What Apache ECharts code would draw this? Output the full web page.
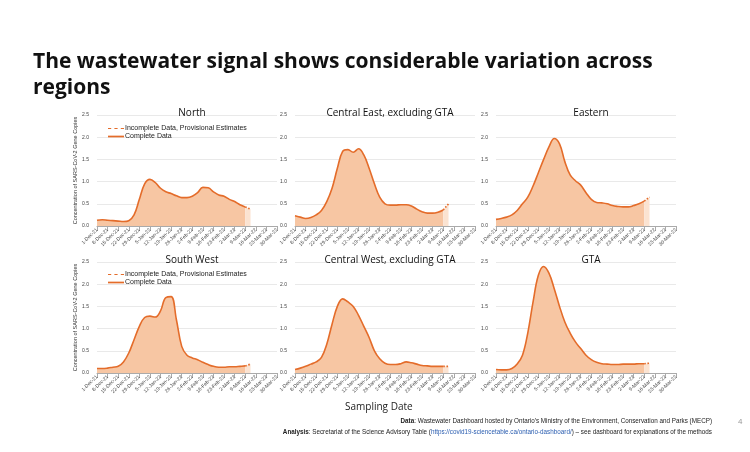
<!DOCTYPE html>
<html><head><meta charset="utf-8">
<script src="https://cdn.jsdelivr.net/npm/echarts@6/dist/echarts.min.js"></script>
<style>html,body{margin:0;padding:0;background:#fff}#c{width:750px;height:452px}</style>
</head><body><div id="c"></div>
<script>
const weekLabels = ['1-Dec-21','8-Dec-21','15-Dec-21','22-Dec-21','29-Dec-21','5-Jan-22','12-Jan-22','19-Jan-22','26-Jan-22','2-Feb-22','9-Feb-22','16-Feb-22','23-Feb-22','2-Mar-22','9-Mar-22','16-Mar-22','23-Mar-22','30-Mar-22'];
// half-week sample points (35 slots); odd slots are mid-week
const categories = [];
weekLabels.forEach((w,i)=>{categories.push(w); if(i<weekLabels.length-1) categories.push('mid-'+w);});
const regions = ['North','Central East, excluding GTA','Eastern','South West','Central West, excluding GTA','GTA'];
const north = [0.13,0.14,0.13,0.12,0.11,0.10,0.12,0.25,0.6,0.95,1.05,0.98,0.85,0.77,0.73,0.68,0.64,0.64,0.67,0.75,0.87,0.86,0.77,0.70,0.67,0.6,0.55,0.48,0.43,0.38];
const centralEast = [0.23,0.2,0.17,0.19,0.25,0.35,0.55,0.85,1.3,1.68,1.72,1.66,1.74,1.6,1.3,0.95,0.65,0.5,0.47,0.47,0.48,0.48,0.45,0.38,0.32,0.29,0.29,0.31,0.36,0.5];
const eastern = [0.15,0.17,0.2,0.25,0.35,0.5,0.65,0.9,1.2,1.5,1.78,1.97,1.85,1.45,1.15,1.02,0.92,0.75,0.6,0.53,0.52,0.5,0.46,0.44,0.43,0.43,0.46,0.5,0.56,0.65];
const southWest = [0.1,0.1,0.11,0.13,0.15,0.25,0.45,0.75,1.05,1.25,1.28,1.26,1.4,1.7,1.72,1.2,0.6,0.4,0.34,0.3,0.24,0.19,0.15,0.13,0.13,0.14,0.14,0.15,0.16,0.2];
const centralWest = [0.08,0.11,0.15,0.2,0.25,0.35,0.65,1.1,1.5,1.67,1.6,1.5,1.3,1.05,0.8,0.5,0.32,0.22,0.19,0.19,0.21,0.25,0.23,0.2,0.17,0.16,0.15,0.15,0.15,0.15];
const gta = [0.08,0.07,0.07,0.1,0.2,0.4,0.9,1.6,2.2,2.4,2.25,1.9,1.5,1.15,0.9,0.7,0.55,0.4,0.3,0.24,0.21,0.2,0.19,0.19,0.2,0.2,0.2,0.21,0.21,0.22];
const allData = [north,centralEast,eastern,southWest,centralWest,gta];
const completeEnd = 28;

const lineC = '#E46C2A', areaC = '#F7C6A3', areaP = '#FBE3D1';
const lefts = [97,295,496];
const tops = [115,262], hgt = 111;
const grid=[],xAxis=[],yAxis=[],series=[],title=[];
for(let i=0;i<6;i++){
  const r=Math.floor(i/3), c=i%3;
  grid.push({left:lefts[c], width:180, top:tops[r], height:hgt});
  xAxis.push({type:'category',gridIndex:i,data:categories,boundaryGap:false,
    axisLine:{lineStyle:{color:'#aaa'}},axisTick:{interval:(k)=>k%2===0,lineStyle:{color:'#aaa'}},
    axisLabel:{interval:(k)=>k%2===0,rotate:45,fontSize:5,color:'#444',margin:3,fontFamily:'Liberation Sans'}});
  yAxis.push({type:'value',gridIndex:i,min:0,max:2.5,interval:0.5,
    axisLabel:{fontSize:5,color:'#444',formatter:v=>v.toFixed(1),margin:8},
    splitLine:{lineStyle:{color:'#e3e3e3',width:0.8}},axisLine:{show:false},
    name:c===0?'Concentration of SARS-CoV-2 Gene Copies':'',nameLocation:'middle',nameGap:16,
    nameTextStyle:{fontSize:5.5,color:'#333'}});
  title.push({text:regions[i],left:lefts[c]+90,textAlign:'center',top:tops[r]-12,
    textStyle:{fontSize:10,fontWeight:'normal',color:'#111',fontFamily:'Open Sans'}});
  const d=allData[i];
  const comp=categories.map((_,k)=>k<=completeEnd?d[k]:null);
  const prov=categories.map((_,k)=>(k>=completeEnd&&k<d.length)?d[k]:null);
  series.push({name:'Complete Data',type:'line',xAxisIndex:i,yAxisIndex:i,data:comp,smooth:0.4,showSymbol:false,
    lineStyle:{color:lineC,width:1.6},itemStyle:{color:lineC},areaStyle:{color:areaC,opacity:1}});
  series.push({name:'Incomplete Data, Provisional Estimates',type:'line',xAxisIndex:i,yAxisIndex:i,data:prov,showSymbol:false,
    lineStyle:{color:lineC,width:1.6,type:'dotted'},itemStyle:{color:lineC},areaStyle:{color:areaP,opacity:1}});
}
title.push({text:'The wastewater signal shows considerable variation across\nregions',left:28,top:44,
  textStyle:{fontSize:21,fontWeight:'bold',color:'#111',lineHeight:26,fontFamily:'Open Sans'}});
const mkLegend=(top)=>({top:top,left:103,orient:'vertical',itemGap:1,itemWidth:16,itemHeight:6,
  data:[{name:'Incomplete Data, Provisional Estimates',icon:'path://M0,2.5H3V3.5H0ZM6,2.5H9V3.5H6ZM12,2.5H15V3.5H12Z'},
        {name:'Complete Data',icon:'path://M0,2.2H15V3.8H0Z'}],
  textStyle:{fontSize:7,color:'#222',padding:[0,0,0,-4]},selectedMode:false});
const chart=echarts.init(document.getElementById('c'),null,{renderer:'canvas'});
chart.setOption({animation:false,title,grid,xAxis,yAxis,series,
  legend:[mkLegend(120),mkLegend(266)],
  graphic:[
    {type:'text',left:345,top:402,style:{text:'Sampling Date',fontSize:10,fill:'#222',fontFamily:'Open Sans'}},
    {type:'text',right:38,top:418,style:{text:'{b|Data}: Wastewater Dashboard hosted by Ontario\u2019s Ministry of the Environment, Conservation and Parks (MECP)',fontSize:6.3,fill:'#222',align:'right',rich:{b:{fontWeight:'bold',fontSize:6.3}}}},
    {type:'text',right:38,top:429,style:{text:'{b|Analysis}: Secretariat of the Science Advisory Table ({u|https://covid19-sciencetable.ca/ontario-dashboard/}) \u2013 see dashboard for explanations of the methods',fontSize:6.3,fill:'#222',align:'right',rich:{b:{fontWeight:'bold',fontSize:6.3},u:{fill:'#2a5db0',fontSize:6.3}}}},
    {type:'text',left:738,top:418,style:{text:'4',fontSize:8,fill:'#999'}}
  ]});
</script></body></html>
